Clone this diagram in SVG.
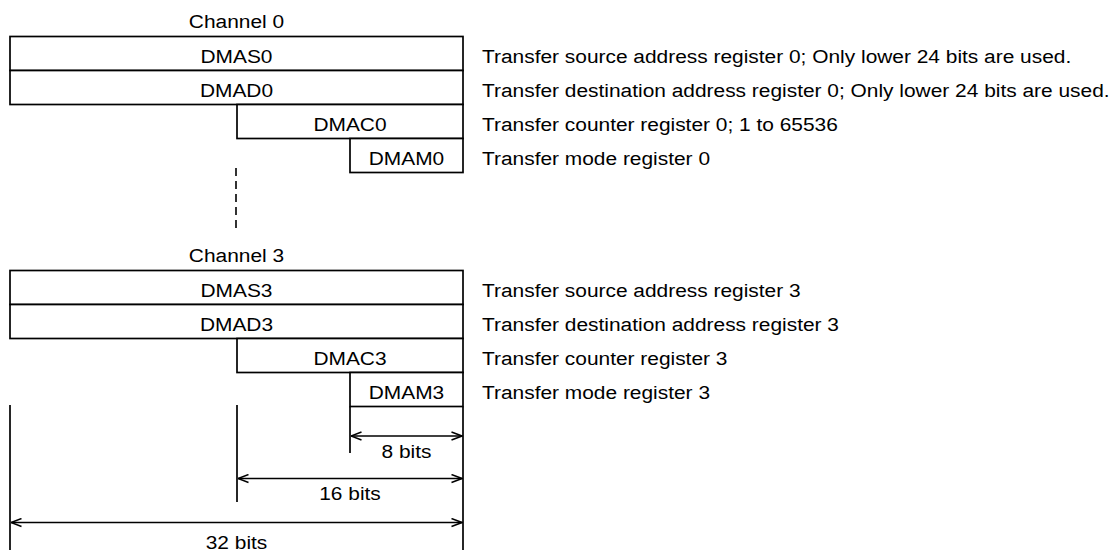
<svg xmlns="http://www.w3.org/2000/svg" width="1119" height="553" viewBox="0 0 1119 553">
<style>
  .ln { stroke: #000; stroke-width: 1.7; fill: none; }
  .box { stroke: #000; stroke-width: 1.7; fill: #fff; }
  .t { font-family: "Liberation Sans", Arial, sans-serif; font-size: 19px; fill: #000; }
  .c { text-anchor: middle; }
  .dash { stroke: #000; stroke-width: 1.6; stroke-dasharray: 8 5; fill: none; }
  .dim { stroke: #000; stroke-width: 1.7; fill: none; marker-start: url(#arr); marker-end: url(#arr); }
</style>
<defs>
  <marker id="arr" viewBox="0 0 12 10" refX="11.5" refY="5" markerWidth="12" markerHeight="10" markerUnits="userSpaceOnUse" orient="auto-start-reverse">
    <path d="M1,1 L11.5,5 L1,9" fill="none" stroke="#000" stroke-width="1.5"/>
  </marker>
</defs>
<rect width="1119" height="553" fill="#fff"/>

<!-- Channel 0 -->
<g id="channel0-label"><text class="t c" transform="translate(236.5,28.3) scale(1.1,1)">Channel 0</text></g>
<g id="DMAS0">
  <rect class="box" x="10" y="36.5" width="453" height="34"/>
  <text class="t c" transform="translate(236.5,62.5) scale(1.1,1)">DMAS0</text>
</g>
<g id="DMAD0">
  <rect class="box" x="10" y="70.5" width="453" height="34"/>
  <text class="t c" transform="translate(236.5,96.5) scale(1.1,1)">DMAD0</text>
</g>
<g id="DMAC0">
  <rect class="box" x="237" y="104.5" width="226" height="34"/>
  <text class="t c" transform="translate(350,130.5) scale(1.1,1)">DMAC0</text>
</g>
<g id="DMAM0">
  <rect class="box" x="350" y="138.5" width="113" height="34"/>
  <text class="t c" transform="translate(406.5,164.5) scale(1.1,1)">DMAM0</text>
</g>
<g id="desc0">
  <text class="t" transform="translate(482,62.5) scale(1.1,1)">Transfer source address register 0; Only lower 24 bits are used.</text>
  <text class="t" transform="translate(482,96.5) scale(1.1,1)">Transfer destination address register 0; Only lower 24 bits are used.</text>
  <text class="t" transform="translate(482,130.5) scale(1.1,1)">Transfer counter register 0; 1 to 65536</text>
  <text class="t" transform="translate(482,164.5) scale(1.1,1)">Transfer mode register 0</text>
</g>

<!-- Channel 3 -->
<g id="channel3-label"><text class="t c" transform="translate(236.5,262.3) scale(1.1,1)">Channel 3</text></g>
<g id="DMAS3">
  <rect class="box" x="10" y="270.5" width="453" height="34"/>
  <text class="t c" transform="translate(236.5,296.5) scale(1.1,1)">DMAS3</text>
</g>
<g id="DMAD3">
  <rect class="box" x="10" y="304.5" width="453" height="34"/>
  <text class="t c" transform="translate(236.5,330.5) scale(1.1,1)">DMAD3</text>
</g>
<g id="DMAC3">
  <rect class="box" x="237" y="338.5" width="226" height="34"/>
  <text class="t c" transform="translate(350,364.5) scale(1.1,1)">DMAC3</text>
</g>
<g id="DMAM3">
  <rect class="box" x="350" y="372.5" width="113" height="34"/>
  <text class="t c" transform="translate(406.5,398.5) scale(1.1,1)">DMAM3</text>
</g>
<g id="desc3">
  <text class="t" transform="translate(482,296.5) scale(1.1,1)">Transfer source address register 3</text>
  <text class="t" transform="translate(482,330.5) scale(1.1,1)">Transfer destination address register 3</text>
  <text class="t" transform="translate(482,364.5) scale(1.1,1)">Transfer counter register 3</text>
  <text class="t" transform="translate(482,398.5) scale(1.1,1)">Transfer mode register 3</text>
</g>

<!-- Connectors / dimension lines -->
<g id="connectors">
  <line class="dash" x1="236" y1="168" x2="236" y2="232"/>
  <line class="ln" x1="463" y1="406.5" x2="463" y2="550"/>
  <line class="ln" x1="350" y1="406.5" x2="350" y2="453"/>
  <line class="ln" x1="237" y1="405" x2="237" y2="502"/>
  <line class="ln" x1="10" y1="405" x2="10" y2="550"/>
  <line class="dim" x1="351" y1="436" x2="462" y2="436"/>
  <line class="dim" x1="238" y1="478.5" x2="462" y2="478.5"/>
  <line class="dim" x1="11" y1="522.5" x2="462" y2="522.5"/>
</g>
<g id="dim-labels">
  <text class="t c" transform="translate(406.5,458) scale(1.1,1)">8 bits</text>
  <text class="t c" transform="translate(350,500) scale(1.1,1)">16 bits</text>
  <text class="t c" transform="translate(236.5,548.5) scale(1.1,1)">32 bits</text>
</g>
</svg>
